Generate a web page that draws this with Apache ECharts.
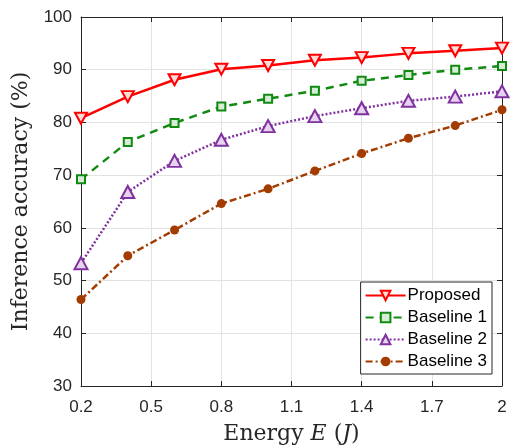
<!DOCTYPE html>
<html><head><meta charset="utf-8">
<script src="https://cdn.jsdelivr.net/npm/echarts@6/dist/echarts.min.js"></script>
<style>html,body{margin:0;padding:0;background:#fff}#c{width:511px;height:446px}</style>
</head><body><div id="c"></div>
<script>
const energy = [0.2, 0.4, 0.6, 0.8, 1.0, 1.2, 1.4, 1.6, 1.8, 2.0];
const proposed = [80.8, 84.9, 88.1, 90.1, 90.8, 91.8, 92.3, 93.1, 93.6, 94.1];
const baseline1 = [69.2, 76.3, 79.9, 83.0, 84.5, 86.0, 87.9, 89.0, 90.0, 90.7];
const baseline2 = [53.3, 66.8, 72.7, 76.7, 79.3, 81.2, 82.7, 84.1, 84.9, 85.9];
const baseline3 = [46.4, 54.7, 59.6, 64.6, 67.4, 70.8, 74.1, 77.0, 79.4, 82.4];
const xTicks = [0.2, 0.5, 0.8, 1.1, 1.4, 1.7, 2.0];
const xTickLabels = ['0.2', '0.5', '0.8', '1.1', '1.4', '1.7', '2'];
const seriesNames = ['Proposed', 'Baseline 1', 'Baseline 2', 'Baseline 3'];

const pair = (ys) => energy.map((x, i) => [x, ys[i]]);
const axisColor = '#262626';
const gridColor = '#e3e3e3';
const serif = 'DejaVu Serif, Liberation Serif, serif';
const chart = echarts.init(document.getElementById('c'));
const tickFont = {fontFamily: 'Liberation Sans, Arial, sans-serif', fontSize: 17, color: axisColor};
chart.setOption({
  animation: false,
  backgroundColor: '#fff',
  grid: {left: 81, right: 9, top: 17, bottom: 60, containLabel: false, outerBoundsMode: 'none'},
  legend: {
    right: 19, top: 282, orient: 'vertical', z: 20,
    backgroundColor: '#fff', borderColor: '#262626', borderWidth: 1,
    padding: [5, 5, 4, 4], itemGap: 5, itemWidth: 40, itemHeight: 12,
    textStyle: {fontFamily: 'Liberation Sans, Arial, sans-serif', fontSize: 17, color: '#000', padding: [0, 0, 0, -3]},
    data: seriesNames
  },
  xAxis: [{
    type: 'value', min: 0.2, max: 2,
    name: '{n|Energy }{i|E}{n| (}{i|J}{n|)}', nameLocation: 'middle', nameGap: 37,
    nameTextStyle: {rich: {
      n: {fontFamily: serif, fontSize: 22, color: axisColor},
      i: {fontFamily: serif, fontStyle: 'italic', fontSize: 22, color: axisColor}
    }},
    axisLine: {show: true, onZero: false, lineStyle: {color: axisColor, width: 1}},
    axisTick: {show: true, inside: true, length: 5, customValues: xTicks, lineStyle: {color: axisColor}},
    axisLabel: Object.assign({customValues: xTicks, margin: 13,
      formatter: (v) => xTickLabels[xTicks.findIndex(t => Math.abs(t - v) < 1e-6)] ?? ''}, tickFont),
    splitLine: {show: false}
  }, {
    type: 'value', min: 0.2, max: 2, position: 'top',
    axisLine: {show: true, onZero: false, lineStyle: {color: axisColor, width: 1}},
    axisTick: {show: true, inside: true, length: 5, customValues: xTicks, lineStyle: {color: axisColor}},
    axisLabel: {show: false}, splitLine: {show: false}
  }],
  yAxis: [{
    type: 'value', min: 30, max: 100, interval: 10,
    name: 'Inference accuracy (%)', nameLocation: 'middle', nameGap: 49,
    nameTextStyle: {fontFamily: serif, fontSize: 22, color: axisColor},
    axisLine: {show: true, onZero: false, lineStyle: {color: axisColor, width: 1}},
    axisTick: {show: true, inside: true, length: 5, lineStyle: {color: axisColor}},
    axisLabel: Object.assign({margin: 9}, tickFont),
    splitLine: {show: true, lineStyle: {color: gridColor, width: 1}}
  }, {
    type: 'value', min: 30, max: 100, interval: 10, position: 'right',
    axisLine: {show: true, onZero: false, lineStyle: {color: axisColor, width: 1}},
    axisTick: {show: true, inside: true, length: 5, lineStyle: {color: axisColor}},
    axisLabel: {show: false}, splitLine: {show: false}
  }],
  series: [{
    name: 'xgrid', type: 'line', data: [], z: 0, silent: true,
    markLine: {
      silent: true, symbol: 'none', animation: false, label: {show: false}, z: 0,
      lineStyle: {color: gridColor, width: 1, type: 'solid'},
      emphasis: {disabled: true},
      data: xTicks.slice(1, -1).map(x => ({xAxis: x}))
    }
  }, {
    name: seriesNames[0], type: 'line', data: pair(proposed),
    symbol: 'triangle', symbolRotate: 180, symbolSize: [12, 11],
    lineStyle: {color: '#ff0000', width: 2.5, type: 'solid'},
    itemStyle: {color: '#ffdcdc', borderColor: '#ff0000', borderWidth: 2},
    z: 5
  }, {
    name: seriesNames[1], type: 'line', data: pair(baseline1),
    symbol: 'rect', symbolSize: 8,
    lineStyle: {color: '#108a10', width: 2.5, type: [8, 6]},
    itemStyle: {color: '#d6ecd6', borderColor: '#108a10', borderWidth: 2},
    z: 4
  }, {
    name: seriesNames[2], type: 'line', data: pair(baseline2),
    symbol: 'triangle', symbolSize: [13, 12],
    lineStyle: {color: '#8031a0', width: 2.5, type: [2, 2]},
    itemStyle: {color: '#e6d4ee', borderColor: '#8031a0', borderWidth: 2},
    z: 3
  }, {
    name: seriesNames[3], type: 'line', data: pair(baseline3),
    symbol: 'circle', symbolSize: 9,
    lineStyle: {color: '#a33c00', width: 2.5, type: [7, 3, 2, 3]},
    itemStyle: {color: '#a33c00', borderColor: '#a33c00', borderWidth: 0},
    z: 2
  }]
});
</script></body></html>
